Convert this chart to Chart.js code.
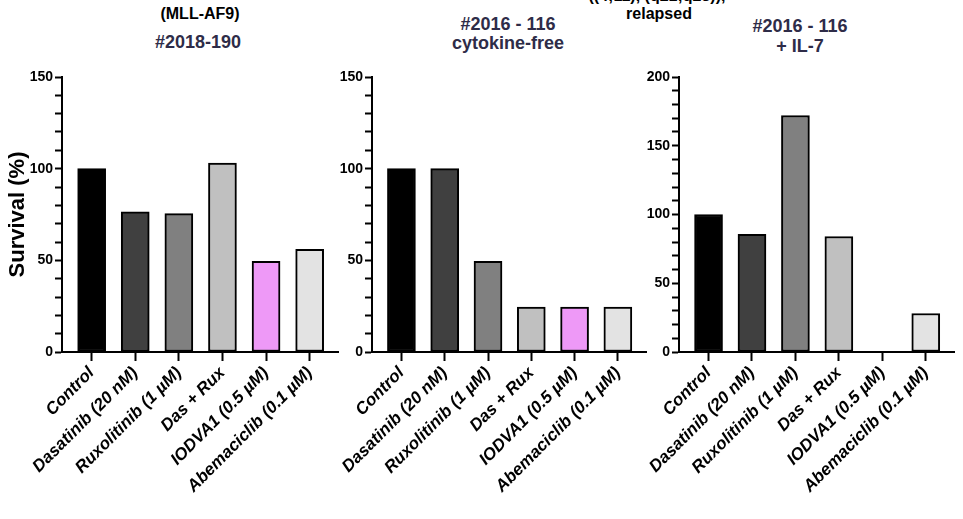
<!DOCTYPE html>
<html lang="en">
<head>
<meta charset="UTF-8">
<title>Survival (%)</title>
<script src="https://cdn.jsdelivr.net/npm/chart.js"></script>
<style>
  body { margin: 0; width: 963px; height: 519px; background: #fff; position: relative; overflow: hidden;
         font-family: "Liberation Sans", Arial, sans-serif; font-weight: bold; }
  canvas { position: absolute; top: 60px; }
  .t { position: absolute; white-space: nowrap; line-height: 1; transform: translateX(-50%); text-align: center; }
  .note { color: #000; font-size: 16px; }
  .sample { color: #2e2c48; font-size: 18px; }
</style>
</head>
<body>
  <div class="t note" style="left:657px; top:-12px;">((4;11), (q21;q23)),</div>
  <div class="t note" style="left:200px; top:6px;">(MLL-AF9)</div>
  <div class="t note" style="left:659px; top:6px;">relapsed</div>
  <div class="t sample" style="left:198px; top:33px;">#2018-190</div>
  <div class="t sample" style="left:508px; top:15px;">#2016 - 116</div>
  <div class="t sample" style="left:508px; top:34px;">cytokine-free</div>
  <div class="t sample" style="left:800px; top:17px;">#2016 - 116</div>
  <div class="t sample" style="left:800px; top:37px;">+ IL-7</div>

  <canvas id="c1" width="345" height="459" style="left:0px"></canvas>
  <canvas id="c2" width="333" height="459" style="left:320px"></canvas>
  <canvas id="c3" width="333" height="459" style="left:630px"></canvas>

<script>
// treatments on the x axis (same for all three panels)
const treatments = ['Control', 'Dasatinib (20 nM)', 'Ruxolitinib (1 µM)', 'Das + Rux', 'IODVA1 (0.5 µM)', 'Abemaciclib (0.1 µM)'];
const barColors = ['#000000', '#404040', '#808080', '#c0c0c0', '#ee99f7', '#e3e3e3'];

// survival (%)
const survival2018 = [100, 76.5, 75.5, 103, 49.5, 56];
const survival2016Free = [100, 100, 49.5, 24.5, 24.5, 24.5];
const survival2016IL7 = [100, 85.5, 172, 84, 0, 28];

const FONT = '"Liberation Sans", Arial, sans-serif';

function makeChart(id, values, yMax, yWidth, padRight, showTitle) {
    const points = values.map((v, i) => ({ x: i, y: v }));
    new Chart(document.getElementById(id), {
        type: 'bar',
        data: {
            datasets: [{
                data: points,
                backgroundColor: barColors,
                borderColor: '#000',
                borderWidth: 2,
                borderSkipped: false,
                barThickness: 28
            }]
        },
        options: {
            responsive: false,
            animation: false,
            layout: { padding: { top: 17, right: padRight, left: 0, bottom: 0 } },
            plugins: { legend: { display: false }, tooltip: { enabled: false } },
            scales: {
                x: {
                    type: 'linear',
                    offset: false,
                    min: -0.68,
                    max: 5.65,
                    grid: { offset: false, drawOnChartArea: false, tickLength: 9, tickWidth: 2, tickColor: '#000' },
                    border: { color: '#000', width: 2 },
                    ticks: {
                        stepSize: 1,
                        includeBounds: false,
                        autoSkip: false,
                        minRotation: 45,
                        maxRotation: 45,
                        padding: 2,
                        color: '#000',
                        font: { family: FONT, size: 17, weight: 'bold', style: 'italic' },
                        callback: v => treatments[v]
                    },
                    afterFit: s => { s.height = 459 - 17 - 275; }
                },
                y: {
                    min: 0,
                    max: yMax,
                    grid: { drawOnChartArea: false, tickLength: 7, tickWidth: 2, tickColor: '#000' },
                    border: { color: '#000', width: 2 },
                    ticks: {
                        stepSize: 10,
                        autoSkip: false,
                        padding: 2,
                        color: '#000',
                        font: { family: FONT, size: 14, weight: 'bold' },
                        callback: v => (v % 50 === 0 ? v : '')
                    },
                    title: {
                        display: showTitle,
                        text: 'Survival (%)',
                        color: '#000',
                        font: { family: FONT, size: 22, weight: 'bold' },
                        padding: { top: 5, bottom: 0 }
                    },
                    afterFit: s => { s.width = yWidth; }
                }
            }
        }
    });
}

makeChart('c1', survival2018, 150, 62, 7, true);
makeChart('c2', survival2016Free, 150, 52, 7, false);
makeChart('c3', survival2016IL7, 200, 49, 9, false);
</script>
</body>
</html>
